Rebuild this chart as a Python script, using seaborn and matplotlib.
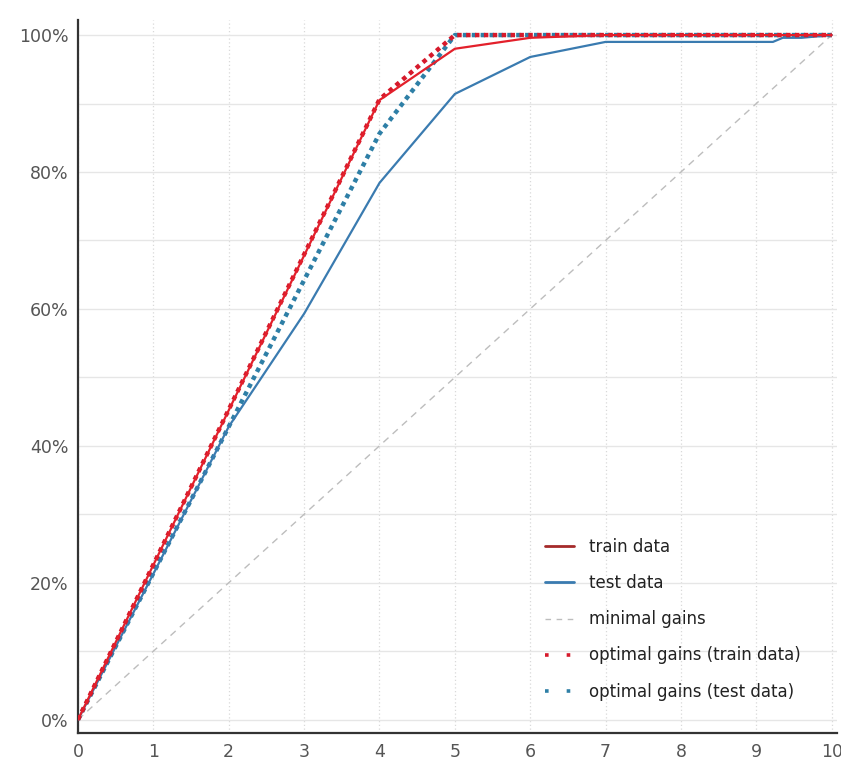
import matplotlib
matplotlib.use("Agg")
import matplotlib.pyplot as plt
from matplotlib.lines import Line2D
from matplotlib.ticker import FuncFormatter, MultipleLocator
import seaborn as sns
import pandas as pd

# ---- data (percent of positives captured vs. decile) ----
deciles = [0, 1, 2, 3, 4, 5, 6, 7, 8, 9, 10]
train_gain = [0, 22.6, 45.2, 67.8, 90.5, 98.0, 99.6, 100, 100, 100, 100]

test_x = [0, 1, 2, 3, 4, 5, 6, 7, 8, 9, 9.22, 9.35, 9.6, 10]
test_gain = [0, 21.3, 42.8, 59.3, 78.4, 91.4, 96.8, 99.0, 99.0, 99.0, 99.0, 99.6, 99.6, 100]

minimal_x = [0, 10]
minimal_gain = [0, 100]

opt_train_gain = [0, 22.65, 45.3, 67.95, 90.6, 100, 100, 100, 100, 100, 100]
opt_test_gain = [0, 21.4, 42.8, 64.2, 85.6, 100, 100, 100, 100, 100, 100]

labels = ["train data", "test data", "minimal gains",
          "optimal gains (train data)", "optimal gains (test data)"]

RED = "#E3202B"
BLUE = "#3A7BB0"
RED_DOT = "#D6192B"
BLUE_DOT = "#2E7FA6"
GREY = "#BDBDBD"

sns.set_theme(style="white")
plt.rcParams["font.family"] = ["DejaVu Sans"]

fig = plt.figure(figsize=(8.41, 7.69), dpi=100)
ax = fig.add_axes([78 / 841, 36 / 769, (837 - 78) / 841, (733 - 20) / 769])

df_min = pd.DataFrame({"x": minimal_x, "y": minimal_gain})
df_train = pd.DataFrame({"x": deciles, "y": train_gain})
df_test = pd.DataFrame({"x": test_x, "y": test_gain})
df_otr = pd.DataFrame({"x": deciles, "y": opt_train_gain})
df_ote = pd.DataFrame({"x": deciles, "y": opt_test_gain})

sns.lineplot(data=df_min, x="x", y="y", ax=ax, color=GREY, lw=1.0,
             linestyle=(0, (5, 4)), zorder=2)
sns.lineplot(data=df_ote, x="x", y="y", ax=ax, color=BLUE_DOT, lw=3.2,
             linestyle=(0, (1, 1.0)), zorder=3)
sns.lineplot(data=df_test, x="x", y="y", ax=ax, color=BLUE, lw=1.6, zorder=4)
sns.lineplot(data=df_otr, x="x", y="y", ax=ax, color=RED_DOT, lw=3.2,
             linestyle=(0, (1, 1.0)), zorder=5)
sns.lineplot(data=df_train, x="x", y="y", ax=ax, color=RED, lw=1.6, zorder=6)

ax.set_xlim(0, 10.07)
ax.set_ylim(-1.95, 102.2)
ax.xaxis.set_major_locator(MultipleLocator(1))
ax.yaxis.set_major_locator(MultipleLocator(20))
ax.yaxis.set_minor_locator(MultipleLocator(10))
ax.yaxis.set_major_formatter(FuncFormatter(lambda v, p: f"{v:.0f}%"))

ax.grid(True, axis="y", which="both", color="#E6E6E6", lw=1.0, linestyle="-")
ax.grid(True, axis="x", which="major", color="#D9D9D9", lw=0.9, linestyle=(0, (1, 2)))
ax.set_axisbelow(True)

for s in ["top", "right"]:
    ax.spines[s].set_visible(False)
for s in ["left", "bottom"]:
    ax.spines[s].set_color("#333333")
    ax.spines[s].set_linewidth(1.6)

ax.tick_params(axis="both", which="both", length=0, labelsize=12.5,
               labelcolor="#555555", pad=7)
ax.set_xlabel("")
ax.set_ylabel("")

handles = [
    Line2D([], [], color="#A52A2A", lw=2.0),
    Line2D([], [], color=BLUE, lw=2.0),
    Line2D([], [], color=GREY, lw=1.0, linestyle=(0, (4, 4))),
    Line2D([], [], color=RED_DOT, lw=2.6, linestyle=(0, (1, 5.0))),
    Line2D([], [], color=BLUE_DOT, lw=2.6, linestyle=(0, (1, 5.0))),
]
leg = fig.legend(handles, labels, loc="upper left",
                 bbox_to_anchor=(530 / 841, 1 - 523 / 769),
                 frameon=False, fontsize=12, handlelength=1.75,
                 handletextpad=0.9, labelspacing=1.09)
for t in leg.get_texts():
    t.set_color("#222222")

fig.savefig("out.png", dpi=100)
